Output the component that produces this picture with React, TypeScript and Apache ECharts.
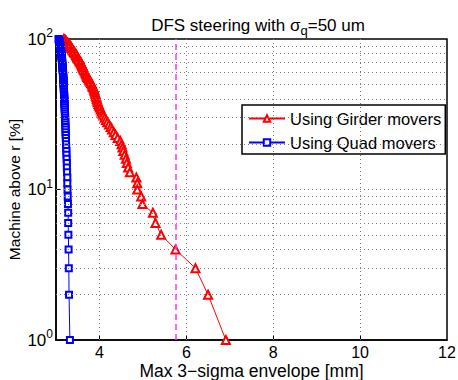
import React, { useEffect, useRef } from 'react';
import * as echarts from 'echarts';

// Percentage of machines above r (100 machines, sorted)
const machinePct = [
  100, 99, 98, 97, 96, 95, 94, 93, 92, 91, 90, 89, 88, 87, 86, 85, 84, 83, 82, 81,
  80, 79, 78, 77, 76, 75, 74, 73, 72, 71, 70, 69, 68, 67, 66, 65, 64, 63, 62, 61,
  60, 59, 58, 57, 56, 55, 54, 53, 52, 51, 50, 49, 48, 47, 46, 45, 44, 43, 42, 41,
  40, 39, 38, 37, 36, 35, 34, 33, 32, 31, 30, 29, 28, 27, 26, 25, 24, 23, 22, 21,
  20, 19, 18, 17, 16, 15, 14, 13, 12, 11, 10, 9, 8, 7, 6, 5, 4, 3, 2, 1,
];

// Max 3-sigma envelope [mm] using girder movers
const girderEnvelope = [
  3.18, 3.2, 3.22, 3.23, 3.24, 3.25, 3.27, 3.28, 3.3, 3.31, 3.33, 3.34, 3.35, 3.36, 3.37, 3.38, 3.39, 3.41, 3.42, 3.43,
  3.45, 3.46, 3.47, 3.48, 3.49, 3.5, 3.51, 3.53, 3.54, 3.55, 3.57, 3.58, 3.59, 3.6, 3.61, 3.62, 3.63, 3.64, 3.65, 3.67,
  3.68, 3.69, 3.7, 3.71, 3.72, 3.74, 3.76, 3.77, 3.79, 3.81, 3.83, 3.84, 3.85, 3.87, 3.88, 3.89, 3.9, 3.91, 3.92, 3.93,
  3.94, 3.95, 3.96, 3.98, 3.99, 4.01, 4.03, 4.05, 4.07, 4.09, 4.12, 4.15, 4.18, 4.22, 4.26, 4.29, 4.33, 4.37, 4.42, 4.48,
  4.51, 4.53, 4.55, 4.58, 4.61, 4.63, 4.66, 4.7, 4.85, 4.87, 4.87, 4.96, 4.99, 5.23, 5.29, 5.42, 5.75, 6.21, 6.5, 6.91,
];

// Max 3-sigma envelope [mm] using quad movers
const quadEnvelope = [
  3.06, 3.065, 3.07, 3.075, 3.08, 3.08, 3.085, 3.09, 3.09, 3.095, 3.1, 3.1, 3.1, 3.105, 3.11, 3.11, 3.115, 3.115, 3.12, 3.12,
  3.12, 3.125, 3.125, 3.13, 3.13, 3.13, 3.135, 3.135, 3.14, 3.14, 3.14, 3.145, 3.145, 3.145, 3.15, 3.15, 3.15, 3.155, 3.155, 3.16,
  3.16, 3.16, 3.165, 3.165, 3.165, 3.17, 3.17, 3.17, 3.175, 3.175, 3.175, 3.18, 3.18, 3.18, 3.18, 3.185, 3.185, 3.185, 3.19, 3.19,
  3.19, 3.195, 3.195, 3.195, 3.2, 3.2, 3.2, 3.205, 3.205, 3.21, 3.21, 3.21, 3.215, 3.215, 3.22, 3.22, 3.22, 3.225, 3.225, 3.23,
  3.23, 3.235, 3.24, 3.24, 3.245, 3.25, 3.25, 3.255, 3.26, 3.26, 3.265, 3.27, 3.275, 3.28, 3.28, 3.285, 3.29, 3.295, 3.3, 3.32,
];

const xTickValues = [4, 6, 8, 10, 12];
const xGridValues = [4, 6, 8, 10];
const yGridValues = [2, 3, 4, 5, 6, 7, 8, 9, 10, 20, 30, 40, 50, 60, 70, 80, 90];
const targetEnvelope = 5.75;

const FONT = 'Liberation Sans, Arial, Helvetica, sans-serif';

export default function App() {
  const ref = useRef<HTMLDivElement>(null);

  useEffect(() => {
    if (!ref.current) return;
    const chart = echarts.init(ref.current, null, { renderer: 'svg' });
    const gridStyle = { color: '#7a7a7a', type: [1, 3] as any, width: 1 };
    chart.setOption({
      animation: false,
      backgroundColor: '#ffffff',
      textStyle: { fontFamily: FONT },
      title: {
        text: 'DFS steering with σ{sub|q}=50 um',
        left: 253,
        textAlign: 'center',
        top: 8,
        textStyle: {
          fontFamily: FONT,
          fontSize: 17,
          fontWeight: 'normal',
          color: '#000',
          lineHeight: 24,
          rich: {
            sub: { fontSize: 13, fontFamily: FONT, verticalAlign: 'bottom', lineHeight: 12, color: '#000' },
          },
        },
      },
      legend: {
        data: ['Using Girder movers', 'Using Quad movers'],
        orient: 'vertical',
        left: 242,
        top: 105,
        padding: [5, 4, 3, 6],
        itemGap: 7,
        itemWidth: 36,
        itemHeight: 8,
        backgroundColor: '#ffffff',
        borderColor: '#000',
        borderWidth: 1.5,
        borderRadius: 0,
        textStyle: { fontFamily: FONT, fontSize: 16.5, color: '#000', padding: [0, 0, 0, 0] },
      },
      grid: {
        left: 56,
        right: 11,
        top: 39,
        bottom: 40,
        show: true,
        borderColor: '#000',
        borderWidth: 1.5,
        backgroundColor: '#fff',
        outerBoundsMode: 'none',
        containLabel: false,
      },
      xAxis: {
        type: 'value',
        min: 3,
        max: 12,
        name: 'Max 3\u2212sigma envelope [mm]',
        nameLocation: 'middle',
        nameGap: 22,
        nameMoveOverlap: false,
        nameTextStyle: { fontFamily: FONT, fontSize: 17.5, color: '#000', verticalAlign: 'top' },
        axisLine: { lineStyle: { color: '#000', width: 1.5 } },
        axisTick: { show: true, inside: true, length: 5, customValues: xGridValues, lineStyle: { color: '#000' } },
        axisLabel: { customValues: xTickValues, fontFamily: FONT, fontSize: 16, color: '#000', margin: 4 },
        splitLine: { show: false },
      },
      yAxis: {
        type: 'log',
        logBase: 10,
        min: 1,
        max: 100,
        name: 'Machine above r [%]',
        nameLocation: 'middle',
        nameGap: 34,
        nameMoveOverlap: false,
        nameTextStyle: { fontFamily: FONT, fontSize: 15.5, color: '#000' },
        axisLine: { lineStyle: { color: '#000', width: 1.5 } },
        axisTick: { show: true, inside: true, length: 5, lineStyle: { color: '#000' } },
        axisLabel: {
          fontFamily: FONT,
          margin: 3,
          formatter: (v: number) => `{b|10}{s|${Math.round(Math.log10(v))}}`,
          rich: {
            b: { fontFamily: FONT, fontSize: 17, color: '#000', lineHeight: 24 },
            s: { fontFamily: FONT, fontSize: 12, color: '#000', verticalAlign: 'top', lineHeight: 12 },
          },
        },
        splitLine: { show: false },
      },
      series: [
        {
          name: 'gridlines',
          type: 'line',
          data: [],
          silent: true,
          z: 1,
          markLine: {
            silent: true,
            symbol: 'none',
            animation: false,
            label: { show: false },
            lineStyle: gridStyle,
            data: [
              ...xGridValues.map((v) => ({ xAxis: v })),
              ...yGridValues.map((v) => ({ yAxis: v })),
            ],
          },
        },
        {
          name: 'target',
          type: 'line',
          data: [],
          silent: true,
          z: 2,
          markLine: {
            silent: true,
            symbol: 'none',
            animation: false,
            label: { show: false },
            lineStyle: { color: '#ff33ff', type: [6, 4] as any, width: 1.5 },
            data: [{ xAxis: targetEnvelope }],
          },
        },
        {
          name: 'Using Girder movers',
          type: 'line',
          z: 3,
          data: girderEnvelope.map((x, i) => [x, machinePct[i]]),
          symbol: 'emptyTriangle',
          symbolSize: 8,
          lineStyle: { color: '#ff0000', width: 1 },
          itemStyle: { color: '#ff0000', borderColor: '#ff0000', borderWidth: 1 },
        },
        {
          name: 'Using Quad movers',
          type: 'line',
          z: 4,
          data: quadEnvelope.map((x, i) => [x, machinePct[i]]),
          symbol: 'emptyRect',
          symbolSize: 6,
          lineStyle: { color: '#0000ff', width: 1 },
          itemStyle: { color: '#0000ff', borderColor: '#0000ff', borderWidth: 1 },
        },
      ],
    });
    return () => chart.dispose();
  }, []);

  return <div ref={ref} style={{ width: 458, height: 380, position: 'absolute', left: 0, top: 0 }} />;
}
